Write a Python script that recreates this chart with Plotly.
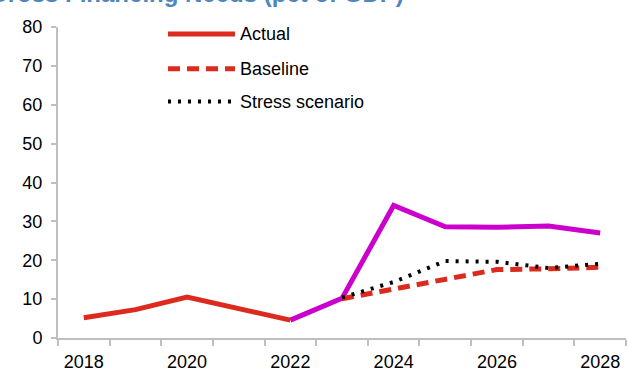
import plotly.graph_objects as go

# data (pct of GDP)
years = [2018, 2019, 2020, 2021, 2022, 2023, 2024, 2025, 2026, 2027, 2028]
actual = [5.2, 7.3, 10.5, 7.6, 4.6, None, None, None, None, None, None]
gfn_stress_path = [None, None, None, None, 4.6, 10.2, 34.1, 28.6, 28.5, 28.8, 27.0]
baseline = [None, None, None, None, None, 10.1, 12.6, 15.2, 17.6, 17.8, 18.2]
stress = [None, None, None, None, None, 10.4, 14.4, 19.8, 19.6, 18.0, 19.1]

tick_years = [2018, 2020, 2022, 2024, 2026, 2028]
y_ticks = [0, 10, 20, 30, 40, 50, 60, 70, 80]

RED = "#dc2a1e"
MAGENTA = "#cc00cc"
GRID = "#bfbfbf"
FONT = "Liberation Sans, Arial, sans-serif"

fig = go.Figure()
fig.add_trace(go.Scatter(x=years, y=gfn_stress_path, mode="lines", showlegend=False,
                         line=dict(color=MAGENTA, width=5)))
fig.add_trace(go.Scatter(x=years, y=baseline, mode="lines", name="Baseline", showlegend=False,
                         line=dict(color=RED, width=5, dash="12px,7px")))
fig.add_trace(go.Scatter(x=years, y=stress, mode="lines", name="Stress scenario", showlegend=False,
                         line=dict(color="black", width=4, dash="3px,7px")))
fig.add_trace(go.Scatter(x=years, y=actual, mode="lines", name="Actual", showlegend=False,
                         line=dict(color=RED, width=5)))

# hand-drawn legend (Excel style long line samples)
legend_items = [("Actual", RED, 5, "solid", 0.9776),
                ("Baseline", RED, 5, "12px,7px", 0.8658),
                ("Stress scenario", "black", 4, "3px,7px", 0.7604)]
shapes = []
annotations = []
for name, color, width, dash, ly in legend_items:
    shapes.append(dict(type="line", xref="paper", yref="paper", x0=0.1937, x1=0.3116,
                       y0=ly, y1=ly, line=dict(color=color, width=width, dash=dash)))
    annotations.append(dict(text=name, xref="paper", yref="paper", x=0.3169, y=ly,
                            xanchor="left", yanchor="middle", showarrow=False,
                            font=dict(size=18, color="black", family=FONT)))

annotations.append(dict(text="<b>Gross Financing Needs (pct of GDP)</b>",
                        xref="paper", yref="paper", x=0.612, y=1.059,
                        xanchor="right", yanchor="bottom", showarrow=False,
                        font=dict(size=24, color="#4f86be", family=FONT)))

fig.update_layout(
    width=628, height=374,
    margin=dict(l=58, r=2, t=27, b=34),
    paper_bgcolor="white", plot_bgcolor="white",
    font=dict(family=FONT, size=18, color="black"),
    showlegend=False,
    shapes=shapes,
    annotations=annotations,
)

fig.update_xaxes(range=[2017.5, 2028.5], tickvals=tick_years,
                 ticktext=[str(y) for y in tick_years],
                 showgrid=False, zeroline=False, showline=True, linecolor=GRID, linewidth=2,
                 ticks="outside", ticklen=0, ticklabelstandoff=6,
                 minor=dict(tickvals=[y - 0.5 for y in years] + [2028.5], ticks="outside",
                            ticklen=6, tickcolor=GRID, tickwidth=2, showgrid=False))
fig.update_yaxes(range=[0, 80], tickvals=y_ticks, showgrid=False, zeroline=False,
                 showline=True, linecolor=GRID, linewidth=2,
                 ticks="outside", ticklen=5, tickcolor=GRID, tickwidth=2,
                 ticklabelstandoff=5)

fig.write_html("out.html", config={"displayModeBar": False},
               post_script="document.body.style.margin='0';")
